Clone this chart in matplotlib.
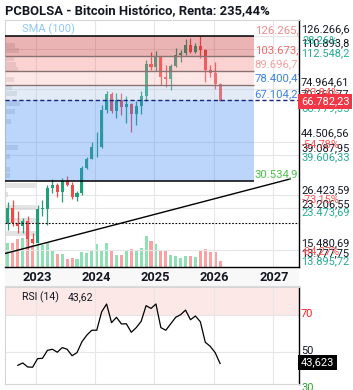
import matplotlib
matplotlib.use('Agg')
import matplotlib.pyplot as plt
from matplotlib.patches import Rectangle

plt.rcParams['font.family'] = ['Roboto', 'DejaVu Sans']

# ---------------- data ----------------
# month index: Jan 2023 = 0 (monthly candles Jul 2022 .. Feb 2026)
months = list(range(-6, 38))
opens = [19926, 23337, 20050, 19432, 20495, 17168,
         16548, 23139, 23147, 28478, 29268, 27219, 30477, 29230, 25931, 26963, 34639, 37724,
         42265, 42580, 61198, 71334, 60636, 67491, 62678, 64619, 58969, 63329, 70215, 96405,
         93429, 102405, 84373, 82548, 94207, 104638, 107135, 115758, 108236, 114049, 109608, 90400,
         87500, 78600]
highs = [24668, 25135, 22674, 21023, 21447, 18318,
         23919, 25134, 29159, 30991, 29820, 31390, 31804, 30176, 27482, 35150, 38431, 44705,
         48970, 63913, 73750, 72797, 71979, 71908, 70016, 65593, 66480, 73577, 99655, 108268,
         109356, 102755, 95043, 95758, 111980, 110585, 123218, 124457, 117900, 126266, 111200, 94600,
         97900, 79300]
lows = [18782, 19600, 18153, 18193, 15599, 16398,
        16499, 21451, 19628, 26971, 25878, 24797, 28934, 25409, 24901, 26556, 34125, 37630,
        38521, 41880, 59224, 59121, 56555, 58402, 53717, 49121, 52546, 58895, 66835, 90743,
        89164, 78258, 76624, 74434, 93389, 98241, 105127, 107271, 107270, 102000, 80600, 84400,
        75000, 66400]
closes = [23337, 20050, 19432, 20495, 17168, 16548,
          23139, 23147, 28478, 29268, 27219, 30477, 29230, 25931, 26963, 34639, 37724, 42265,
          42580, 61198, 71334, 60636, 67491, 62678, 64619, 58969, 63329, 70215, 96405, 93429,
          102405, 84373, 82548, 94207, 104638, 107135, 115758, 108236, 114049, 109608, 90400, 87500,
          78600, 66782]
volumes = [24, 24, 28.3, 29, 27.7, 21.7, 23.3, 22.3, 25, 16.7, 13.3, 12.7, 8.3, 9.3, 8.3,
           15, 14.3, 16, 22.7, 17.3, 24.3, 16.7, 11.7, 11.7, 16, 18.3, 17.3, 19.3, 30.7,
           25.7, 23.3, 17.3, 15.7, 12.3, 10.7, 9, 10.7, 10.7, 10, 16.7, 18, 14.7, 15, 6.3]

rsi_months = list(range(-4, 38))
rsi = [42.6, 43.9, 41.7, 41.6, 46.2, 46.4, 50.7, 51.3, 49.7, 52.2, 51.3, 47.8, 49.5, 55.4,
       59.0, 61.6, 61.6, 71.6, 75.8, 65.7, 68.6, 65.0, 65.1, 60.5, 63.0, 66.4, 74.9, 73.4,
       75.8, 63.0, 61.6, 65.1, 68.6, 70.0, 72.5, 67.3, 69.3, 66.2, 55.1, 52.9, 49.5, 43.6]

# volume profile (price level, relative size)
profile_prices = [115600, 110100, 101700, 95050, 90500, 82800, 75800, 71500, 64800, 59900,
                  54350, 42100, 38600, 33900, 31950, 28950, 26550, 23380, 20580, 18120]
profile_sizes = [10, 14, 9, 11, 13, 9, 7, 12, 15, 10, 6, 13, 5, 5, 5, 31, 3, 31, 31, 31]

band_levels = [126265.9, 103673.4, 89696.73, 78400.47, 67104.21, 30534.95]
band_labels = ['126.265,9', '103.673,4', '89.696,73', '78.400,47', '67.104,21', '30.534,95']
band_label_colors = ['#f08a8a', '#f06a6a', '#f5a0a0', '#3f82e0', '#3f82e0', '#4cc44c']
band_fill_colors = [(198/255, 41/255, 41/255), (246/255, 126/255, 126/255),
                    (249/255, 184/255, 184/255), (175/255, 201/255, 232/255),
                    (64/255, 138/255, 244/255)]
band_end = 43.9
grid_prices = [126266.6, 110893.8, 74964.61, 44506.56, 39087.95, 26423.59, 23206.55, 15480.69]
dotted_level = 20180
trend_x = [-6.6, 51.2]
trend_y = [14900, 31000]

years = ['2023', '2024', '2025', '2026', '2027']
year_pos = [-0.3, 11.7, 23.7, 35.7, 47.7]

# right axis labels: (text, pixel-y, color)
axis_labels = [
    ('126.266,6', 29, '#131722'), ('110.893,8', 43, '#131722'), ('28,26%', 40, '#22ab94'),
    ('112.548,2', 53, '#22ab94'),
    ('74.964,61', 82, '#131722'), ('70.360,77', 94, '#131722'), ('-23,84%', 92, '#ff5252'),
    ('66.779,35', 108, '#22ab94'),
    ('44.506,56', 133, '#131722'), ('39.087,95', 148, '#131722'), ('-54,78%', 144, '#ff5252'),
    ('39.606,33', 157, '#22ab94'),
    ('26.423,59', 190, '#131722'), ('23.206,55', 204, '#131722'), ('-73,15%', 199, '#ff5252'),
    ('23.473,69', 212, '#22ab94'),
    ('15.480,69', 243, '#131722'), ('13.777,75', 253, '#131722'), ('-84,27%', 251, '#ff5252'),
    ('13.895,72', 261, '#22ab94'),
]

GREEN = '#1f9e7a'
RED = '#f04a4a'
VGREEN = '#8fe0b4'
VRED = '#f8a3a3'
GRID = '#e6e6e6'
XL = (-6.6, 53.0)

W, H = 353, 390
fig = plt.figure(figsize=(W / 100, H / 100), dpi=100)
fig.patch.set_facecolor('white')

def rect(x0, y0, x1, y1):
    return [x0 / W, 1 - y1 / H, (x1 - x0) / W, (y1 - y0) / H]

main_rect = rect(5, 20, 299, 267)
ax_vol = fig.add_axes(main_rect)
ax_vol.set_zorder(0)
ax = fig.add_axes(main_rect)
ax.set_zorder(1)
ax.patch.set_alpha(0)

# ---- volume ----
vcols = [VGREEN if c >= o else VRED for o, c in zip(opens, closes)]
ax_vol.bar(months, volumes, width=0.62, color=vcols, zorder=2)
ax_vol.set_xlim(*XL)
ax_vol.set_ylim(0, 247)
ax_vol.axis('off')

# ---- main ----
ax.set_yscale('log')
ax.set_xlim(*XL)
ax.set_ylim(13050, 147900)
ax.set_xticks([])
ax.set_yticks([])
ax.yaxis.set_minor_locator(matplotlib.ticker.NullLocator())
for yp in year_pos:
    ax.axvline(yp, color=GRID, lw=0.8, zorder=0.5)
for gp in grid_prices:
    ax.axhline(gp, color=GRID, lw=0.8, zorder=0.5)

# volume profile
for p, s in zip(profile_prices, profile_sizes):
    lo, hi = p * 0.9758, p * 1.0248
    ax.add_patch(Rectangle((XL[0], lo), s / 4.93, hi - lo, facecolor='#c4c4c4',
                           alpha=0.45, lw=0, zorder=1))

# candles
for m, o, h, l, c in zip(months, opens, highs, lows, closes):
    col = GREEN if c >= o else RED
    ax.vlines(m, l, h, color=col, lw=0.9, zorder=2)
    b0, b1 = min(o, c), max(o, c)
    ax.add_patch(Rectangle((m - 0.31, b0), 0.62, max(b1 - b0, b0 * 0.004),
                           facecolor=col, lw=0, zorder=2))

# bands
for i in range(5):
    lo, hi = band_levels[i + 1], band_levels[i]
    ax.add_patch(Rectangle((XL[0], lo), band_end - XL[0], hi - lo,
                           facecolor=band_fill_colors[i], alpha=0.35, lw=0, zorder=3))
ax.hlines(band_levels[0], XL[0], band_end, color='black', lw=1.1, zorder=4)
for lv in band_levels[1:4]:
    ax.hlines(lv, XL[0], band_end, color='#8a7272', lw=1.0, zorder=4)
ax.axhline(band_levels[4], color='#1a237e', lw=1.0, ls=(0, (3, 2)), zorder=4)
ax.hlines(band_levels[5], XL[0], band_end, color='black', lw=1.1, zorder=4)
for lv, lab, col in zip(band_levels, band_labels, band_label_colors):
    ax.text(band_end + 0.1, lv * 1.012, lab, color=col, fontsize=8.2, ha='left',
            va='bottom', zorder=6, clip_on=True)

# dotted level and trend line
ax.axhline(dotted_level, color='black', lw=0.8, ls=(0, (1.5, 1.5)), zorder=4)
ax.plot(trend_x, trend_y, color='black', lw=1.0, zorder=5)

for s in ['left', 'top']:
    ax.spines[s].set_color('#d6d6d6')
    ax.spines[s].set_linewidth(0.8)
for s in ['right', 'bottom']:
    ax.spines[s].set_color('black')
    ax.spines[s].set_linewidth(1.0)

# ---- year strip ----
ax_strip = fig.add_axes(rect(5, 267, 299, 286))
ax_strip.set_xlim(*XL)
ax_strip.set_ylim(0, 1)
ax_strip.set_facecolor('#f8f8f8')
ax_strip.set_xticks([])
ax_strip.set_yticks([])
for s in ax_strip.spines.values():
    s.set_visible(False)
ax_strip.spines['bottom'].set_visible(True)
ax_strip.spines['bottom'].set_color('#dcdcdc')
for yp, lab in zip(year_pos, years):
    ax_strip.text(yp + 0.2, 0.45, lab, fontsize=9.2, fontweight='bold', ha='center',
                  va='center', color='#131722')

# ---- RSI ----
ax_rsi = fig.add_axes(rect(5, 287, 299, 384))
ax_rsi.set_xlim(*XL)
ax_rsi.set_ylim(32.5, 85)
ax_rsi.axhspan(70, 100, color='#fde8e8', lw=0, zorder=0)
for yp in year_pos:
    ax_rsi.axvline(yp, color=GRID, lw=0.8, zorder=0.5)
for lv in (50, 70):
    ax_rsi.axhline(lv, color=GRID, lw=0.8, zorder=0.5)
ax_rsi.plot(rsi_months, rsi, color='black', lw=0.9, zorder=2)
ax_rsi.set_xticks([])
ax_rsi.set_yticks([])
for s in ['left', 'top', 'bottom']:
    ax_rsi.spines[s].set_color('#d6d6d6')
    ax_rsi.spines[s].set_linewidth(0.8)
ax_rsi.spines['right'].set_color('black')
ax_rsi.spines['right'].set_linewidth(1.0)

# ---- texts ----
def ft(x, y, s, **kw):
    return fig.text(x / W, 1 - y / H, s, **kw)

ft(5, 11, 'PCBOLSA - Bitcoin Histórico, Renta: 235,44%', fontsize=9.4, fontweight='semibold',
   color='#131722', va='center', ha='left')
ft(22, 29, 'SMA (100)', fontsize=8, color='#90c8f8', va='center', ha='left')

for txt, yp, col in axis_labels:
    xoff = 302 if txt.endswith('%') else 301
    ft(xoff, yp, txt, fontsize=7.9, color=col, va='center', ha='left')
ft(301, 101.5, '66.782,23', fontsize=7.9, color='white', va='center', ha='left',
   bbox=dict(boxstyle='square,pad=0.25', facecolor='#f23645', edgecolor='none'))

ft(22, 297, 'RSI (14)', fontsize=7.6, color='#131722', va='center', ha='left')
ft(68, 297, '43,62', fontsize=7.6, color='#131722', va='center', ha='left')
ft(301, 314, '70', fontsize=7.9, color='#ff1a1a', va='center', ha='left')
ft(301, 351, '50', fontsize=7.9, color='#131722', va='center', ha='left')
ft(301, 388, '30', fontsize=7.9, color='#2e9e2e', va='center', ha='left')
ft(301, 362.5, '43,623', fontsize=7.9, color='white', va='center', ha='left',
   bbox=dict(boxstyle='square,pad=0.25', facecolor='black', edgecolor='none'))

fig.savefig('out.png', dpi=100, facecolor='white')
